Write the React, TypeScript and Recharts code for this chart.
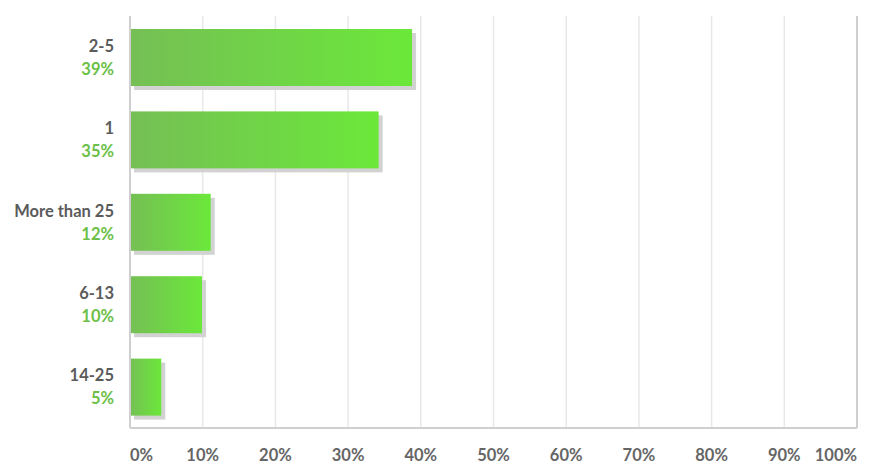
import { BarChart, Bar, XAxis, YAxis, CartesianGrid, ReferenceLine } from 'recharts'

const categories = ['2-5', '1', 'More than 25', '6-13', '14-25']
const shares = [38.8, 34.2, 11.1, 9.9, 4.3]
const shareLabels = ['39%', '35%', '12%', '10%', '5%']
const xTicks = [0, 10, 20, 30, 40, 50, 60, 70, 80, 90, 100]

const data = categories.map((name, i) => ({ name, value: shares[i], label: shareLabels[i] }))

const FONT = 'Lato, "Open Sans", sans-serif'

function ShadowBar(props: any) {
  const { x, y, width, height } = props
  if (!width || width <= 0) return null
  return (
    <g>
      <rect x={x + 4} y={y + 4} width={width} height={height} fill="#d2d2d2" />
      <rect x={x} y={y} width={width} height={height} fill="url(#barGrad)" />
    </g>
  )
}

function CategoryTick(props: any) {
  const { y, payload, index } = props
  return (
    <g fontFamily={FONT} fontWeight={700} fontSize={16.5}>
      <text x={114} y={y - 11.5} textAnchor="end" dominantBaseline="central" fill="#5b5b5b">
        {payload.value}
      </text>
      <text x={114} y={y + 11.5} textAnchor="end" dominantBaseline="central" fill="#6cbf47">
        {shareLabels[index]}
      </text>
    </g>
  )
}

function PercentTick(props: any) {
  const { x, y, payload } = props
  const v = payload.value
  const anchor = v === 0 ? 'start' : v === 100 ? 'end' : 'middle'
  return (
    <text
      x={x}
      y={y + 25}
      textAnchor={anchor}
      dominantBaseline="central"
      fontFamily={FONT}
      fontWeight={700}
      fontSize={16.5}
      fill="#666"
    >
      {v + '%'}
    </text>
  )
}

export default function App() {
  return (
    <div style={{ position: 'absolute', left: 0, top: 0, width: 870, height: 468, background: '#fff' }}>
      <BarChart
        width={870}
        height={468}
        data={data}
        layout="vertical"
        margin={{ top: 16, right: 13, bottom: 0, left: 0 }}
        barSize={57}
      >
        <defs>
          <linearGradient id="barGrad" x1="0" y1="0" x2="1" y2="0">
            <stop offset="0%" stopColor="#75bf55" />
            <stop offset="100%" stopColor="#6be83a" />
          </linearGradient>
        </defs>
        <CartesianGrid horizontal={false} stroke="#e8e8e8" strokeWidth={1.5} />
        <XAxis
          type="number"
          domain={[0, 100]}
          ticks={xTicks}
          height={40}
          axisLine={{ stroke: '#cfcfcf', strokeWidth: 2 }}
          tickLine={false}
          tickSize={0}
          tick={<PercentTick />}
          interval={0}
        />
        <YAxis
          type="category"
          dataKey="name"
          width={130}
          axisLine={{ stroke: '#cfcfcf', strokeWidth: 2 }}
          tickLine={false}
          tick={<CategoryTick />}
          interval={0}
        />
        <ReferenceLine x={100} stroke="#cfcfcf" strokeWidth={2} />
        <Bar dataKey="value" shape={<ShadowBar />} isAnimationActive={false} />
      </BarChart>
    </div>
  )
}
